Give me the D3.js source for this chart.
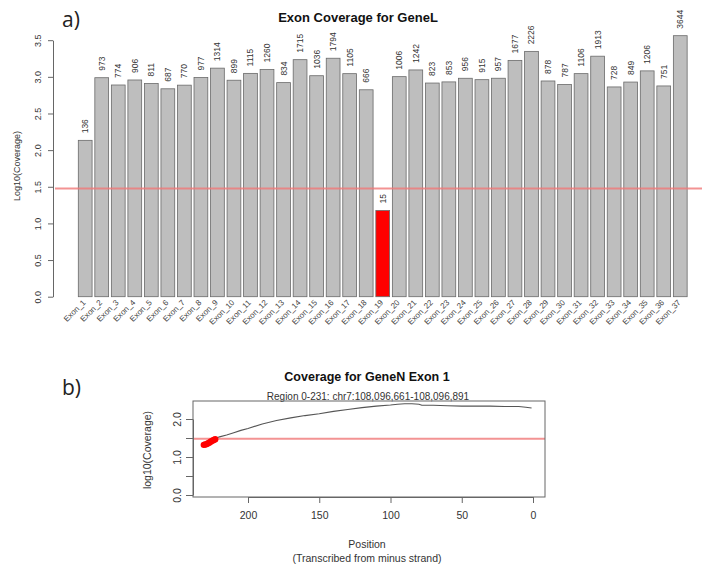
<!DOCTYPE html>
<html>
<head>
<meta charset="utf-8">
<script src="https://cdn.jsdelivr.net/npm/d3@7"></script>
<style>
  body { margin: 0; background: #fff; }
  svg { display: block; }
  text { font-family: "Liberation Sans", Arial, Helvetica, sans-serif; }
</style>
</head>
<body>
<svg id="chart" width="702" height="565"></svg>
<script>
// ---------- DATA ----------
const exons = d3.range(1, 38).map(i => "Exon_" + i);
const exonCoverage = [136, 973, 774, 906, 811, 687, 770, 977, 1314, 899, 1115, 1260, 834, 1715, 1036, 1794, 1105, 666, 15,
  1006, 1242, 823, 853, 956, 915, 957, 1677, 2226, 878, 787, 1106, 1913, 728, 849, 1206, 751, 3644];
const coverageThreshold = 30;
const topYTicks = [0, 0.5, 1, 1.5, 2, 2.5, 3, 3.5];

// panel b: per-position log10 coverage
const lowPositions = [231, 230, 229, 228, 227, 226, 225, 224, 223];
const lowValues    = [1.32, 1.33, 1.34, 1.36, 1.38, 1.41, 1.43, 1.45, 1.47];
const positions = [223, 222, 220, 215, 210, 205, 200, 190, 180, 170, 160, 150, 140, 130, 120, 110, 100, 95, 90, 85, 80, 78, 70, 60, 50, 40, 30, 20, 10, 5, 1];
const logCoverage = [1.47, 1.50, 1.53, 1.58, 1.64, 1.70, 1.75, 1.87, 1.96, 2.03, 2.09, 2.14, 2.20, 2.25, 2.30, 2.34, 2.37, 2.39, 2.40, 2.40, 2.39, 2.36, 2.36, 2.35, 2.34, 2.34, 2.34, 2.33, 2.33, 2.31, 2.29];
const posTicks = [200, 150, 100, 50, 0];
const bottomYTicks = [0, 0.5, 1, 1.5, 2];
const bottomYLabels = [0, 1, 2];

const svg = d3.select("#chart");
const axisCol = "#666";
const textCol = "#333";
const redLine = "#f07878";

// ---------- PANEL A ----------
svg.append("text").attr("x", 62).attr("y", 27).attr("font-size", 21)
  .style("font-family", "'Open Sans', 'Noto Sans', sans-serif").attr("fill", "#222").text("a)");

svg.append("text").attr("x", 358).attr("y", 22).attr("text-anchor", "middle")
  .attr("font-size", 13).attr("font-weight", "bold").attr("fill", "#111")
  .text("Exon Coverage for GeneL");

const yA = d3.scaleLinear().domain([0, 3.5]).range([296.7, 40.2]);
const xA = d3.scaleBand().domain(exons).range([75.55, 689.9]).paddingInner(0.1667).paddingOuter(0.1667);

// bars
const data = exons.map((e, i) => ({ exon: e, cov: exonCoverage[i] }));
svg.append("g").selectAll("rect").data(data).join("rect")
  .attr("x", d => xA(d.exon)).attr("width", xA.bandwidth())
  .attr("y", d => yA(Math.log10(d.cov)))
  .attr("height", d => yA(0) - yA(Math.log10(d.cov)))
  .attr("fill", d => d.cov < coverageThreshold ? "#ff0000" : "#bebebe")
  .attr("stroke", "#6a6a6a").attr("stroke-width", 0.8);

// threshold line (drawn over bars)
svg.append("line").attr("x1", 55).attr("x2", 702)
  .attr("y1", yA(Math.log10(coverageThreshold))).attr("y2", yA(Math.log10(coverageThreshold)))
  .attr("stroke", redLine).attr("stroke-opacity", 0.8).attr("stroke-width", 2);

// bar labels
svg.append("g").selectAll("text").data(data).join("text")
  .attr("transform", d => `translate(${xA(d.exon) + xA.bandwidth() / 2 + 3},${yA(Math.log10(d.cov)) - 7}) rotate(-90)`)
  .attr("font-size", 8.5).attr("fill", textCol)
  .text(d => d.cov);

// y axis
const yAxisA = svg.append("g").attr("transform", "translate(53,0)")
  .call(d3.axisLeft(yA).tickValues(topYTicks).tickSize(5).tickSizeOuter(0).tickFormat(d3.format(".1f")));
yAxisA.select(".domain").attr("stroke", axisCol);
yAxisA.selectAll(".tick line").attr("stroke", axisCol);
yAxisA.selectAll(".tick text").attr("transform", "rotate(-90)").attr("x", 0).attr("y", -15)
  .attr("dy", "0.35em").attr("text-anchor", "middle").attr("font-size", 9).attr("fill", textCol)
  .style("font-family", "'Liberation Sans', Arial, sans-serif");

svg.append("text").attr("transform", "translate(20,166) rotate(-90)").attr("text-anchor", "middle")
  .attr("font-size", 9).attr("fill", textCol).text("Log10(Coverage)");

// x labels
svg.append("g").selectAll("text").data(exons).join("text")
  .attr("transform", d => `translate(${xA(d) + xA.bandwidth() / 2 + 1},303) rotate(-45)`)
  .attr("text-anchor", "end").attr("font-size", 8).attr("fill", "#444")
  .text(d => d);

// ---------- PANEL B ----------
svg.append("text").attr("x", 62).attr("y", 395).attr("font-size", 21)
  .style("font-family", "'Open Sans', 'Noto Sans', sans-serif").attr("fill", "#222").text("b)");

svg.append("text").attr("x", 367).attr("y", 381).attr("text-anchor", "middle")
  .attr("font-size", 12.5).attr("font-weight", "bold").attr("fill", "#111")
  .text("Coverage for GeneN Exon 1");
svg.append("text").attr("x", 368).attr("y", 400).attr("text-anchor", "middle")
  .attr("font-size", 10).attr("fill", textCol)
  .text("Region 0-231: chr7:108,096,661-108,096,891");

const xB = d3.scaleLinear().domain([200, 0]).range([248, 533]);
const yB = d3.scaleLinear().domain([0, 2]).range([495, 419]);
const boxL = 193, boxR = 545, boxT = 401, boxB = 497;

// threshold line
svg.append("line").attr("x1", boxL).attr("x2", boxR)
  .attr("y1", yB(Math.log10(coverageThreshold))).attr("y2", yB(Math.log10(coverageThreshold)))
  .attr("stroke", redLine).attr("stroke-opacity", 0.8).attr("stroke-width", 2);

// coverage line
svg.append("path").datum(positions.map((p, i) => [p, logCoverage[i]]))
  .attr("d", d3.line().x(d => xB(d[0])).y(d => yB(d[1])))
  .attr("fill", "none").attr("stroke", "#555").attr("stroke-width", 1.1);

// low-coverage points
svg.append("g").selectAll("circle").data(lowPositions.map((p, i) => [p, lowValues[i]])).join("circle")
  .attr("cx", d => xB(d[0])).attr("cy", d => yB(d[1])).attr("r", 3.2).attr("fill", "#ff0000");

// box
svg.append("rect").attr("x", boxL).attr("y", boxT).attr("width", boxR - boxL).attr("height", boxB - boxT)
  .attr("fill", "none").attr("stroke", axisCol).attr("stroke-width", 1);

// y axis
const yAxisB = svg.append("g").attr("transform", `translate(${boxL},0)`)
  .call(d3.axisLeft(yB).tickValues(bottomYTicks).tickSize(7).tickSizeOuter(0)
    .tickFormat(d => bottomYLabels.includes(d) ? d3.format(".1f")(d) : ""));
yAxisB.select(".domain").attr("stroke", axisCol);
yAxisB.selectAll(".tick line").attr("stroke", axisCol);
yAxisB.selectAll(".tick text").attr("transform", "rotate(-90)").attr("x", 0).attr("y", -16)
  .attr("dy", "0.35em").attr("text-anchor", "middle").attr("font-size", 10.5).attr("fill", textCol)
  .style("font-family", "'Liberation Sans', Arial, sans-serif");

svg.append("text").attr("transform", "translate(151,450) rotate(-90)").attr("text-anchor", "middle")
  .attr("font-size", 10.5).attr("fill", textCol).text("log10(Coverage)");

// x axis
const xAxisB = svg.append("g").attr("transform", `translate(0,${boxB})`)
  .call(d3.axisBottom(xB).tickValues(posTicks).tickSize(6).tickSizeOuter(0));
xAxisB.select(".domain").attr("stroke", axisCol);
xAxisB.selectAll(".tick line").attr("stroke", axisCol);
xAxisB.selectAll(".tick text").attr("y", 18).attr("dy", "0.35em").attr("font-size", 10.5).attr("fill", textCol)
  .style("font-family", "'Liberation Sans', Arial, sans-serif");

svg.append("text").attr("x", 367).attr("y", 548).attr("text-anchor", "middle")
  .attr("font-size", 10.5).attr("fill", textCol).text("Position");
svg.append("text").attr("x", 367).attr("y", 562).attr("text-anchor", "middle")
  .attr("font-size", 10.5).attr("fill", textCol).text("(Transcribed from minus strand)");
</script>
</body>
</html>
